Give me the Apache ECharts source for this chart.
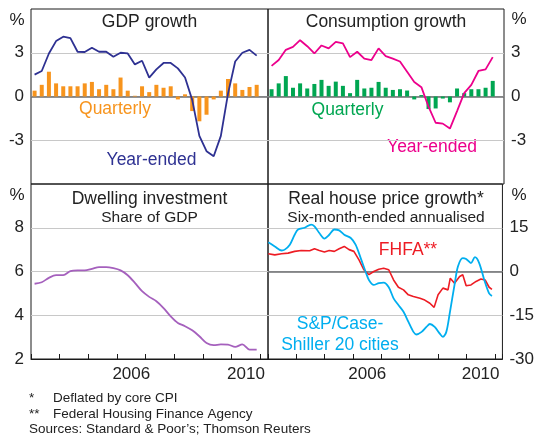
<!DOCTYPE html>
<html>
<head>
<meta charset="utf-8">
<script src="https://cdn.jsdelivr.net/npm/echarts@6/dist/echarts.min.js"></script>
<style>
    html, body { margin: 0; padding: 0; background: #fff; }
    #chart { width: 537px; height: 437px; }
</style>
</head>
<body>
<div id="chart"></div>
<script>
// quarterly data, 2003Q1 - 2010Q4
var firstYear = 2003;
var lastYear = 2010;
var gdpQuarterly = [0.4, 0.8, 1.7, 0.9, 0.7, 0.7, 0.7, 0.9, 1.0, 0.5, 0.8, 0.5, 1.3, 0.4, 0.05, 0.7,
    0.3, 0.8, 0.6, 0.7, -0.2, 0.15, -1.0, -1.7, -1.25, -0.2, 0.4, 1.2, 0.9, 0.45, 0.65, 0.8];
var gdpYearEnded = [1.5, 1.75, 2.95, 3.8, 4.1, 4.0, 3.07, 3.05, 3.34, 3.07, 3.07, 2.73, 3.0, 2.95, 2.2, 2.45,
    1.3, 1.86, 2.3, 2.3, 1.93, 1.3, -0.23, -2.7, -3.75, -4.1, -2.7, 0.2, 2.4, 3.0, 3.2, 2.8];
var consQuarterly = [0.5, 0.9, 1.4, 0.6, 0.9, 0.55, 0.86, 1.14, 0.73, 1.02, 0.73, 0.23, 1.14, 0.55, 0.6, 1.0,
    0.6, 0.45, 0.5, 0.41, -0.2, 0.1, -0.86, -0.82, -0.14, -0.4, 0.55, 0.23, 0.5, 0.5, 0.6, 1.07];
var consYearEnded = [2.1, 2.5, 3.2, 3.4, 3.86, 3.45, 2.95, 3.5, 3.3, 3.75, 3.64, 2.7, 3.07, 2.6, 2.5, 3.3,
    2.77, 2.6, 2.4, 1.7, 1.0, 0.64, -0.7, -1.8, -1.86, -2.2, -1.0, 0.23, 0.8, 1.75, 1.86, 2.7];
var dwellingShare = [5.44, 5.51, 5.71, 5.83, 5.83, 6.02, 6.05, 6.05, 6.12, 6.2, 6.2, 6.15, 6.05, 5.83, 5.48, 5.1,
    4.84, 4.64, 4.33, 3.95, 3.65, 3.5, 3.31, 3.04, 2.73, 2.63, 2.67, 2.66, 2.55, 2.67, 2.43, 2.43];

// monthly house prices (dates as decimal years)
var csDates = [2003.01, 2003.24, 2003.48, 2003.59, 2003.77, 2003.94, 2004.06, 2004.29, 2004.52, 2004.64,
    2004.81, 2004.99, 2005.16, 2005.34, 2005.51, 2005.69, 2005.92, 2006.09, 2006.27, 2006.44,
    2006.56, 2006.73, 2006.91, 2007.08, 2007.26, 2007.43, 2007.60, 2007.78, 2007.95, 2008.13,
    2008.24, 2008.42, 2008.59, 2008.71, 2008.88, 2009.06, 2009.17, 2009.29, 2009.41, 2009.58,
    2009.70, 2009.87, 2009.99, 2010.16, 2010.30, 2010.45, 2010.63, 2010.80, 2010.90];
var csValues = [10, 8.6, 7.2, 7.5, 9.2, 12.6, 14.4, 15, 16.1, 15.5,
    13.2, 11.3, 12.6, 14.4, 14.1, 12.6, 11.5, 9.2, 4.6, 0,
    -2.9, -4.6, -4, -3.8, -5.4, -9.2, -11.5, -13.8, -17.2, -20.7,
    -21.6, -20.7, -19, -18, -19, -21.3, -22.4, -20.7, -14.4, -4.6,
    1.7, 4.6, 4.3, 2.9, 4.9, 2.9, -2.9, -7.5, -8.4];
var fhfaDates = [2003.01, 2003.24, 2003.48, 2003.71, 2003.94, 2004.17, 2004.47, 2004.64, 2004.81, 2004.99,
    2005.16, 2005.34, 2005.51, 2005.69, 2005.86, 2006.03, 2006.21, 2006.38, 2006.56, 2006.73,
    2006.91, 2007.08, 2007.26, 2007.43, 2007.60, 2007.78, 2007.95, 2008.13, 2008.36, 2008.53,
    2008.71, 2008.86, 2009.00, 2009.17, 2009.35, 2009.43, 2009.58, 2009.76, 2009.87, 2009.99,
    2010.16, 2010.34, 2010.51, 2010.66, 2010.80, 2010.90];
var fhfaValues = [6.1, 5.7, 6.1, 6.3, 6.9, 7.2, 7.1, 7.8, 7.2, 6.7,
    7.2, 6.9, 7.8, 8.6, 7.5, 6.9, 4, 0.6, -1.1, 0,
    0.8, 1.1, 0.6, -2.9, -5.4, -6.3, -8, -8.6, -9.2, -9.8,
    -10.9, -12.3, -8, -5.7, -6.3, -2.3, -4, -1.7, -1.1, -4.9,
    -4.6, -3.4, -2.6, -2.9, -5.4, -6.1];

var yearLabels = [2006, 2010];

// quarter positions (middle of each quarter)
var quarterPos = [];
for (var y = firstYear; y <= lastYear; y++) {
    for (var q = 1; q <= 4; q++) {
        quarterPos.push(y + (q - 0.5) / 4);
    }
}
function pairs(xs, vs) {
    var out = [];
    for (var i = 0; i < vs.length; i++) out.push([xs[i], vs[i]]);
    return out;
}

var font = '"Liberation Sans", Arial, sans-serif';
var xMin = 2003, xMax = 2011.27;
var grids = [
    {left: 31, top: 9, width: 237, height: 175},
    {left: 268, top: 9, width: 236, height: 175},
    {left: 31, top: 184, width: 237, height: 175},
    {left: 268, top: 184, width: 236, height: 175}
];
grids.forEach(function (g) {
    g.show = true;
    g.borderColor = '#1a1a1a';
    g.borderWidth = 1;
    g.backgroundColor = 'transparent';
});

function plainAxis(gi) {
    return {
        type: 'value', gridIndex: gi, min: xMin, max: xMax,
        axisLine: {show: false, onZero: false},
        axisTick: {show: false}, axisLabel: {show: false}, splitLine: {show: false}
    };
}
function tickAxis(gi) {
    return {
        type: 'value', gridIndex: gi, min: xMin, max: xMax, interval: 1,
        axisLine: {show: true, onZero: false, lineStyle: {color: '#1a1a1a', width: 1}},
        axisTick: {show: true, inside: true, length: 5, lineStyle: {color: '#1a1a1a'}},
        axisLabel: {show: false}, splitLine: {show: false}
    };
}
function labelAxis(gi) {
    return {
        type: 'value', gridIndex: gi, min: xMin, max: xMax, interval: 0.5, position: 'bottom',
        axisLine: {show: false, onZero: false}, axisTick: {show: false}, splitLine: {show: false},
        axisLabel: {
            show: true, margin: 7, fontSize: 17, fontFamily: font, color: '#222',
            showMinLabel: false, showMaxLabel: false,
            formatter: function (v) {
                var yr = Math.floor(v);
                return (v - yr === 0.5 && yearLabels.indexOf(yr) >= 0) ? String(yr) : '';
            }
        }
    };
}
function valueAxis(gi, min, max, step, pos, hideMin) {
    return {
        type: 'value', gridIndex: gi, min: min, max: max, interval: step, position: pos,
        axisLine: {show: false}, axisTick: {show: false},
        axisLabel: {
            margin: 7, fontSize: 17, fontFamily: font, color: '#222',
            formatter: function (v) {
                if (v === max || (hideMin && v === min)) return '';
                return String(v);
            }
        },
        splitLine: {show: true, showMinLine: false, showMaxLine: false, lineStyle: {color: '#c8c8c8', width: 1}}
    };
}
// extra axis that only draws the zero line
function zeroLine(gi, min, max) {
    return {
        type: 'value', gridIndex: gi, min: min, max: max, interval: max, position: 'left',
        axisLine: {show: false}, axisTick: {show: false}, axisLabel: {show: false},
        splitLine: {show: true, showMinLine: false, showMaxLine: false, lineStyle: {color: '#6d6e71', width: 1.5}}
    };
}

function txt(s, x, y, color, size, align) {
    return {
        type: 'text', x: x, y: y, silent: true,
        style: {text: s, fill: color, font: size + 'px ' + font, textAlign: align || 'center', textVerticalAlign: 'middle'}
    };
}

var chart = echarts.init(document.getElementById('chart'), null, {renderer: 'canvas'});
var option = {
    animation: false,
    grid: grids,
    xAxis: [plainAxis(0), plainAxis(1), tickAxis(2), tickAxis(3), labelAxis(2), labelAxis(3)],
    yAxis: [
        valueAxis(0, -6, 6, 3, 'left', true),
        valueAxis(1, -6, 6, 3, 'right', true),
        valueAxis(2, 2, 10, 2, 'left', false),
        valueAxis(3, -30, 30, 15, 'right', false),
        zeroLine(0, -6, 6),
        zeroLine(1, -6, 6),
        zeroLine(3, -30, 30)
    ],
    series: [
        {type: 'bar', xAxisIndex: 0, yAxisIndex: 0, barWidth: 4, itemStyle: {color: '#f7941d'},
            data: pairs(quarterPos, gdpQuarterly)},
        {type: 'line', xAxisIndex: 0, yAxisIndex: 0, symbol: 'none', lineStyle: {color: '#2e3192', width: 1.8},
            data: pairs(quarterPos, gdpYearEnded)},
        {type: 'bar', xAxisIndex: 1, yAxisIndex: 1, barWidth: 4, itemStyle: {color: '#00a651'},
            data: pairs(quarterPos, consQuarterly)},
        {type: 'line', xAxisIndex: 1, yAxisIndex: 1, symbol: 'none', lineStyle: {color: '#ec008c', width: 1.8},
            data: pairs(quarterPos, consYearEnded)},
        {type: 'line', xAxisIndex: 2, yAxisIndex: 2, symbol: 'none', smooth: 0.3, lineStyle: {color: '#a560bd', width: 1.8},
            data: pairs(quarterPos, dwellingShare)},
        {type: 'line', xAxisIndex: 3, yAxisIndex: 3, symbol: 'none', lineStyle: {color: '#ed1c24', width: 1.6},
            data: pairs(fhfaDates, fhfaValues)},
        {type: 'line', xAxisIndex: 3, yAxisIndex: 3, symbol: 'none', smooth: 0.3, lineStyle: {color: '#00aeef', width: 1.8},
            data: pairs(csDates, csValues)}
    ],
    graphic: [
        txt('%', 17, 20, '#222', 17),
        txt('%', 519, 19, '#222', 17),
        txt('%', 17, 195, '#222', 17),
        txt('%', 519, 195, '#222', 17),
        txt('GDP growth', 149.5, 22, '#222', 17.5),
        txt('Consumption growth', 386, 22, '#222', 17.5),
        txt('Dwelling investment', 149.5, 199, '#222', 17.5),
        txt('Share of GDP', 149.5, 218, '#222', 15.5),
        txt('Real house price growth*', 386, 199, '#222', 17.5),
        txt('Six-month-ended annualised', 386, 218, '#222', 15.5),
        txt('Quarterly', 115, 109, '#f7941d', 17.5),
        txt('Year-ended', 151.5, 160, '#2e3192', 17.5),
        txt('Quarterly', 347.5, 110, '#00a651', 17.5),
        txt('Year-ended', 432, 147, '#ec008c', 17.5),
        txt('FHFA**', 408, 250, '#ed1c24', 17.5),
        txt('S&P/Case-', 340, 324, '#00aeef', 17.5),
        txt('Shiller 20 cities', 340, 345, '#00aeef', 17.5),
        txt('*', 29, 398, '#222', 13.5, 'left'),
        txt('Deflated by core CPI', 53, 398, '#222', 13.5, 'left'),
        txt('**', 29, 414, '#222', 13.5, 'left'),
        txt('Federal Housing Finance Agency', 53, 414, '#222', 13.5, 'left'),
        txt('Sources: Standard & Poor\u2019s; Thomson Reuters', 29, 429, '#222', 13.5, 'left')
    ]
};
chart.setOption(option);
</script>
</body>
</html>
